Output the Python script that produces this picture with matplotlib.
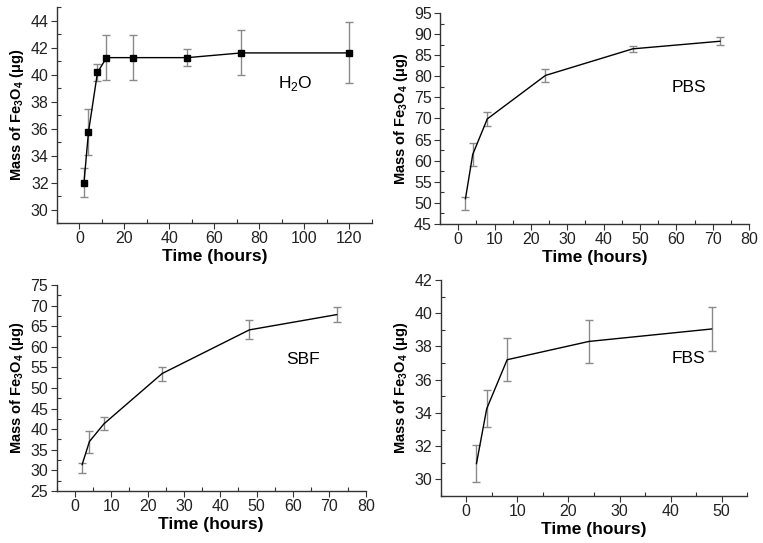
import matplotlib
matplotlib.use('Agg')
import matplotlib.pyplot as plt
from matplotlib.ticker import MultipleLocator

plt.rcParams['font.family'] = ['Liberation Sans', 'DejaVu Sans']
plt.rcParams['mathtext.fontset'] = 'custom'
plt.rcParams['mathtext.rm'] = 'Liberation Sans'
plt.rcParams['mathtext.bf'] = 'Liberation Sans:bold'

# H2O
h2o_t = [2, 4, 8, 12, 24, 48, 72, 120]
h2o_m = [32.0, 35.75, 40.15, 41.25, 41.25, 41.25, 41.6, 41.6]
h2o_lo = [1.05, 1.7, 0.6, 1.65, 1.65, 0.65, 1.65, 2.25]
h2o_hi = [1.05, 1.7, 0.65, 1.7, 1.7, 0.65, 1.7, 2.3]

# PBS
pbs_t = [2, 4, 8, 24, 48, 72]
pbs_m = [51.0, 61.5, 69.9, 80.2, 86.5, 88.3]
pbs_lo = [2.7, 2.7, 1.6, 1.5, 0.7, 1.0]
pbs_hi = [0.5, 2.7, 1.6, 1.6, 0.7, 1.1]

# SBF
sbf_t = [2, 4, 8, 24, 48, 72]
sbf_m = [31.4, 37.0, 41.3, 53.5, 64.1, 67.8]
sbf_lo = [2.0, 2.7, 1.6, 1.7, 2.2, 1.7]
sbf_hi = [0.4, 2.6, 1.7, 1.7, 2.3, 1.8]

# FBS
fbs_t = [2, 4, 8, 24, 48]
fbs_m = [30.95, 34.25, 37.2, 38.3, 39.05]
fbs_err = [1.1, 1.1, 1.3, 1.3, 1.3]

ylab = r'Mass of Fe$_\mathbf{3}$O$_\mathbf{4}$ (μg)'

fig = plt.figure(figsize=(7.63, 5.43), dpi=100)


def panel(rect, t, m, lo, hi, xlim, ylim, xmaj, ymaj, label, lpos, marker=None):
    ax = fig.add_axes(rect)
    ax.errorbar(t, m, yerr=[lo, hi], fmt='none', ecolor='#8a8a8a',
                elinewidth=1, capsize=3, capthick=1)
    ax.plot(t, m, color='black', lw=1, marker=marker, ms=5)
    ax.set_xlim(*xlim)
    ax.set_ylim(*ylim)
    ax.xaxis.set_major_locator(MultipleLocator(xmaj))
    ax.xaxis.set_minor_locator(MultipleLocator(xmaj / 2))
    ax.yaxis.set_major_locator(MultipleLocator(ymaj))
    ax.yaxis.set_minor_locator(MultipleLocator(ymaj / 2))
    ax.spines['top'].set_visible(False)
    ax.spines['right'].set_visible(False)
    for s in ['left', 'bottom']:
        ax.spines[s].set_linewidth(1.0)
        ax.spines[s].set_color('#333333')
    ax.tick_params(which='major', direction='out', length=4, width=0.8, pad=2,
                   labelsize=11.5, colors='#333333', labelcolor='#222222')
    ax.tick_params(which='minor', direction='in', length=3, width=0.8,
                   colors='#333333')
    ax.set_xlabel('Time (hours)', fontsize=12.5, fontweight='bold', labelpad=2)
    ax.set_ylabel(ylab, fontsize=10.5, fontweight='bold', labelpad=3)
    ax.text(lpos[0], lpos[1], label, fontsize=12.5, ha='center', va='center')
    return ax


panel([0.0747, 0.5893, 0.4128, 0.3978], h2o_t, h2o_m, h2o_lo, h2o_hi,
      (-10, 130), (29, 45), 20, 2, r'H$_2$O', (96, 39.3), marker='s')
panel([0.5767, 0.5875, 0.405, 0.3886], pbs_t, pbs_m, pbs_lo, pbs_hi,
      (-5, 80), (45, 95), 10, 5, 'PBS', (63.4, 77.4))
panel([0.0743, 0.0958, 0.405, 0.3794], sbf_t, sbf_m, sbf_lo, sbf_hi,
      (-5, 80), (25, 75), 10, 5, 'SBF', (62.8, 56.9))
panel([0.5776, 0.0866, 0.4018, 0.3978], fbs_t, fbs_m, fbs_err, fbs_err,
      (-5, 55), (29, 42), 10, 2, 'FBS', (43.4, 37.3))

fig.savefig('out.png', dpi=100)
